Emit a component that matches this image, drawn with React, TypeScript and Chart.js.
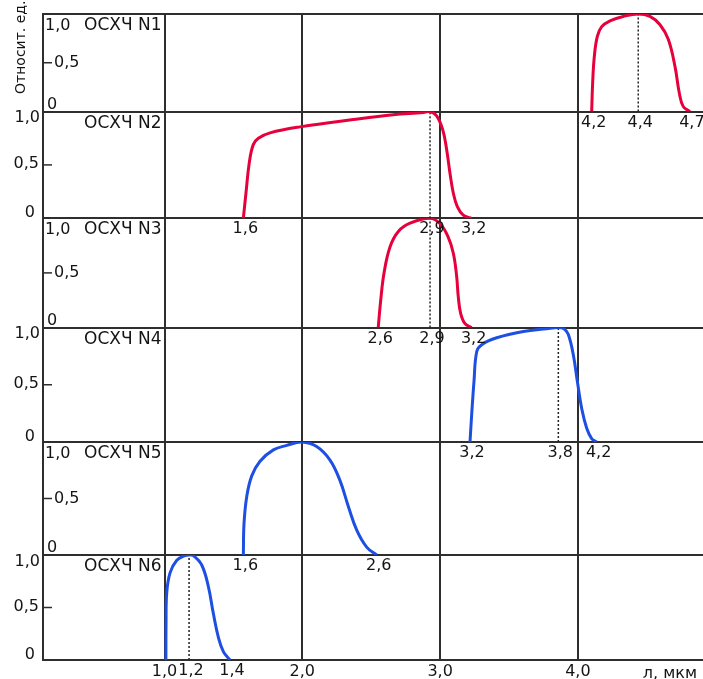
import React, { useEffect, useRef } from 'react';
import { Chart, registerables } from 'chart.js';

Chart.register(...registerables);

// ---- data (λ in мкм, relative units) ----
const panelNames = ['ОСХЧ N1', 'ОСХЧ N2', 'ОСХЧ N3', 'ОСХЧ N4', 'ОСХЧ N5', 'ОСХЧ N6'];

const n1X = [4.100, 4.107, 4.119, 4.141, 4.173, 4.233, 4.329, 4.438, 4.523, 4.596, 4.656, 4.705, 4.736, 4.765, 4.813];
const n1Y = [0, 0.29, 0.56, 0.77, 0.87, 0.93, 0.975, 1.0, 0.975, 0.89, 0.74, 0.46, 0.19, 0.05, 0];

const n2X = [1.572, 1.591, 1.615, 1.644, 1.681, 1.766, 1.983, 2.370, 2.660, 2.878, 2.927, 2.975, 3.019, 3.048, 3.072, 3.096, 3.125, 3.168, 3.229];
const n2Y = [0, 0.235, 0.52, 0.69, 0.75, 0.80, 0.856, 0.925, 0.97, 0.99, 1.0, 0.96, 0.83, 0.64, 0.42, 0.235, 0.11, 0.03, 0];

const n3X = [2.551, 2.569, 2.593, 2.637, 2.697, 2.782, 2.927, 3.000, 3.058, 3.096, 3.120, 3.132, 3.149, 3.181, 3.229];
const n3Y = [0, 0.25, 0.50, 0.74, 0.88, 0.955, 1.0, 0.95, 0.83, 0.68, 0.47, 0.28, 0.13, 0.035, 0];

const n4X = [3.217, 3.229, 3.246, 3.266, 3.302, 3.411, 3.604, 3.774, 3.858, 3.899, 3.930, 3.967, 3.996, 4.028, 4.064, 4.100, 4.136];
const n4Y = [0, 0.236, 0.53, 0.79, 0.85, 0.91, 0.965, 0.99, 1.0, 0.99, 0.94, 0.76, 0.53, 0.29, 0.12, 0.03, 0];

const n5X = [1.572, 1.577, 1.597, 1.633, 1.693, 1.790, 1.887, 1.996, 2.104, 2.201, 2.273, 2.334, 2.395, 2.467, 2.540];
const n5Y = [0, 0.28, 0.52, 0.70, 0.83, 0.93, 0.97, 1.0, 0.96, 0.84, 0.66, 0.43, 0.22, 0.07, 0];

const n6X = [1.010, 1.011, 1.016, 1.040, 1.089, 1.149, 1.178, 1.209, 1.270, 1.318, 1.354, 1.390, 1.427, 1.475];
const n6Y = [0, 0.35, 0.64, 0.83, 0.95, 0.995, 1.0, 0.995, 0.905, 0.70, 0.445, 0.22, 0.08, 0];

// labels under each curve: start, peak, end
const n1Marks = ['4,2', '4,4', '4,7'];
const n2Marks = ['1,6', '2,9', '3,2'];
const n3Marks = ['2,6', '2,9', '3,2'];
const n4Marks = ['3,2', '3,8', '4,2'];
const n5Marks = ['1,6', '', '2,6'];
const n6Marks = ['', '1,2', '1,4'];

const panelDotted = [true, true, true, true, false, true];

const xTicks = [1, 2, 3, 4];
const xTickLabels = ['1,0', '2,0', '3,0', '4,0'];
const yTickLabels = ['0', '0,5', '1,0'];
const yTitle = 'Относит. ед.';
const xTitle = 'л, мкм';

// ---- derived ----
const panelX = [n1X, n2X, n3X, n4X, n5X, n6X];
const panelY = [n1Y, n2Y, n3Y, n4Y, n5Y, n6Y];
const panelMarks = [n1Marks, n2Marks, n3Marks, n4Marks, n5Marks, n6Marks];
const panelIds = ['y1', 'y2', 'y3', 'y4', 'y5', 'y6'];
const RED = '#e6003c';
const BLUE = '#1d4fe2';
const curveColors = [RED, RED, RED, BLUE, BLUE, BLUE];
const stackWeights = [97.5, 106.8, 109.2, 114.5, 113, 105];
const LINE = '#2e2e2e';
const TEXT = '#141414';
const FONT = '"DejaVu Sans", sans-serif';

function peakX(i: number) {
  const ys = panelY[i];
  const idx = ys.indexOf(Math.max(...ys));
  return panelX[i][idx];
}

const annotPlugin = {
  id: 'annot',
  afterDraw(chart: any) {
    const ctx = chart.ctx;
    const xs = chart.scales.x;
    const area = chart.chartArea;
    ctx.save();
    ctx.fillStyle = TEXT;
    ctx.strokeStyle = LINE;
    panelIds.forEach((id, i) => {
      const s = chart.scales[id];
      const top = s.getPixelForValue(1);
      const bottom = s.getPixelForValue(0);
      const mid = s.getPixelForValue(0.5);
      // panel name
      ctx.font = '17px ' + FONT;
      ctx.textAlign = 'right';
      ctx.textBaseline = 'alphabetic';
      ctx.fillText(panelNames[i], xs.getPixelForValue(1) - 3, top + 16);
      // 0.5 tick dash
      ctx.lineWidth = 1.5;
      ctx.beginPath();
      ctx.moveTo(area.left, mid);
      ctx.lineTo(area.left + 9, mid);
      ctx.stroke();
      ctx.font = '16px ' + FONT;
      if (i % 2 === 0) {
        ctx.textAlign = 'left';
        ctx.fillText(yTickLabels[2], area.left + 2, top + 15.5);
        ctx.fillText(yTickLabels[1], area.left + 11, mid + 4);
        ctx.fillText(yTickLabels[0], area.left + 4, bottom - 3);
      } else {
        ctx.textAlign = 'right';
        ctx.fillText(yTickLabels[2], area.left - 3, top + 10.5);
        ctx.fillText(yTickLabels[1], area.left - 4, mid + 3);
        ctx.fillText(yTickLabels[0], area.left - 8, bottom - 1);
      }
      // marks under the curve
      const xsArr = panelX[i];
      const feats = [xsArr[0], peakX(i), xsArr[xsArr.length - 1]];
      ctx.textAlign = 'center';
      panelMarks[i].forEach((t, k) => {
        if (t) ctx.fillText(t, xs.getPixelForValue(feats[k]) + 2, bottom + 15);
      });
    });
    // y title (rotated)
    ctx.save();
    ctx.translate(25, 94);
    ctx.rotate(-Math.PI / 2);
    ctx.textAlign = 'left';
    ctx.textBaseline = 'alphabetic';
    ctx.font = '14px ' + FONT;
    ctx.fillText(yTitle, 0, 0);
    ctx.restore();
    // x title
    ctx.font = '16px ' + FONT;
    ctx.textAlign = 'right';
    ctx.textBaseline = 'alphabetic';
    ctx.fillText(xTitle, 697, 678);
    ctx.restore();
  },
};

export default function App() {
  const ref = useRef<HTMLCanvasElement | null>(null);
  useEffect(() => {
    document.body.style.margin = '0';
    if (!ref.current) return;
    Chart.defaults.font.family = FONT;

    const datasets: any[] = [];
    panelIds.forEach((id, i) => {
      datasets.push({
        data: panelX[i].map((x, k) => ({ x, y: panelY[i][k] })),
        xAxisID: 'x',
        yAxisID: id,
        borderColor: curveColors[i],
        borderWidth: 3,
        pointRadius: 0,
        fill: false,
        tension: 0.4,
      });
      if (panelDotted[i]) {
        const px = peakX(i);
        datasets.push({
          data: [{ x: px, y: 0 }, { x: px, y: 1 }],
          xAxisID: 'x',
          yAxisID: id,
          borderColor: '#222',
          borderWidth: 1.5,
          borderDash: [2, 2],
          pointRadius: 0,
          fill: false,
        });
      }
    });

    const scales: any = {
      x: {
        type: 'linear',
        position: 'bottom',
        min: 0.118,
        max: 4.908,
        afterBuildTicks: (s: any) => {
          s.ticks = xTicks.map((v) => ({ value: v }));
        },
        afterFit: (s: any) => {
          s.height = 19;
        },
        grid: { color: LINE, lineWidth: 2, drawTicks: false },
        border: { color: LINE, width: 2 },
        ticks: {
          color: TEXT,
          font: { family: FONT, size: 16 },
          padding: 2,
          labelOffset: 0,
          maxRotation: 0,
          autoSkip: false,
          callback: (_v: any, idx: number) => xTickLabels[idx],
        },
      },
    };
    panelIds.forEach((id, i) => {
      scales[id] = {
        type: 'linear',
        position: 'left',
        stack: 'panels',
        stackWeight: stackWeights[i],
        weight: 10 - i,
        min: 0,
        max: 1,
        afterFit: (s: any) => {
          s.width = 43;
        },
        ticks: { display: false, stepSize: 0.5 },
        grid: {
          drawTicks: false,
          lineWidth: 2,
          color: (c: any) => (c.tick && c.tick.value === 0.5 ? 'rgba(0,0,0,0)' : LINE),
        },
        border: { color: LINE, width: 2 },
      };
    });

    const chart = new Chart(ref.current, {
      type: 'line',
      data: { datasets },
      options: {
        animation: false,
        responsive: false,
        devicePixelRatio: 1,
        events: [],
        layout: { padding: { top: 14, left: 0, right: 0, bottom: 0 } },
        plugins: { legend: { display: false }, tooltip: { enabled: false } },
        scales,
      },
      plugins: [annotPlugin],
    } as any);
    return () => chart.destroy();
  }, []);

  return (
    <div style={{ width: 703, height: 679, background: '#fff' }}>
      <canvas ref={ref} width={703} height={679} style={{ display: 'block' }} />
    </div>
  );
}
